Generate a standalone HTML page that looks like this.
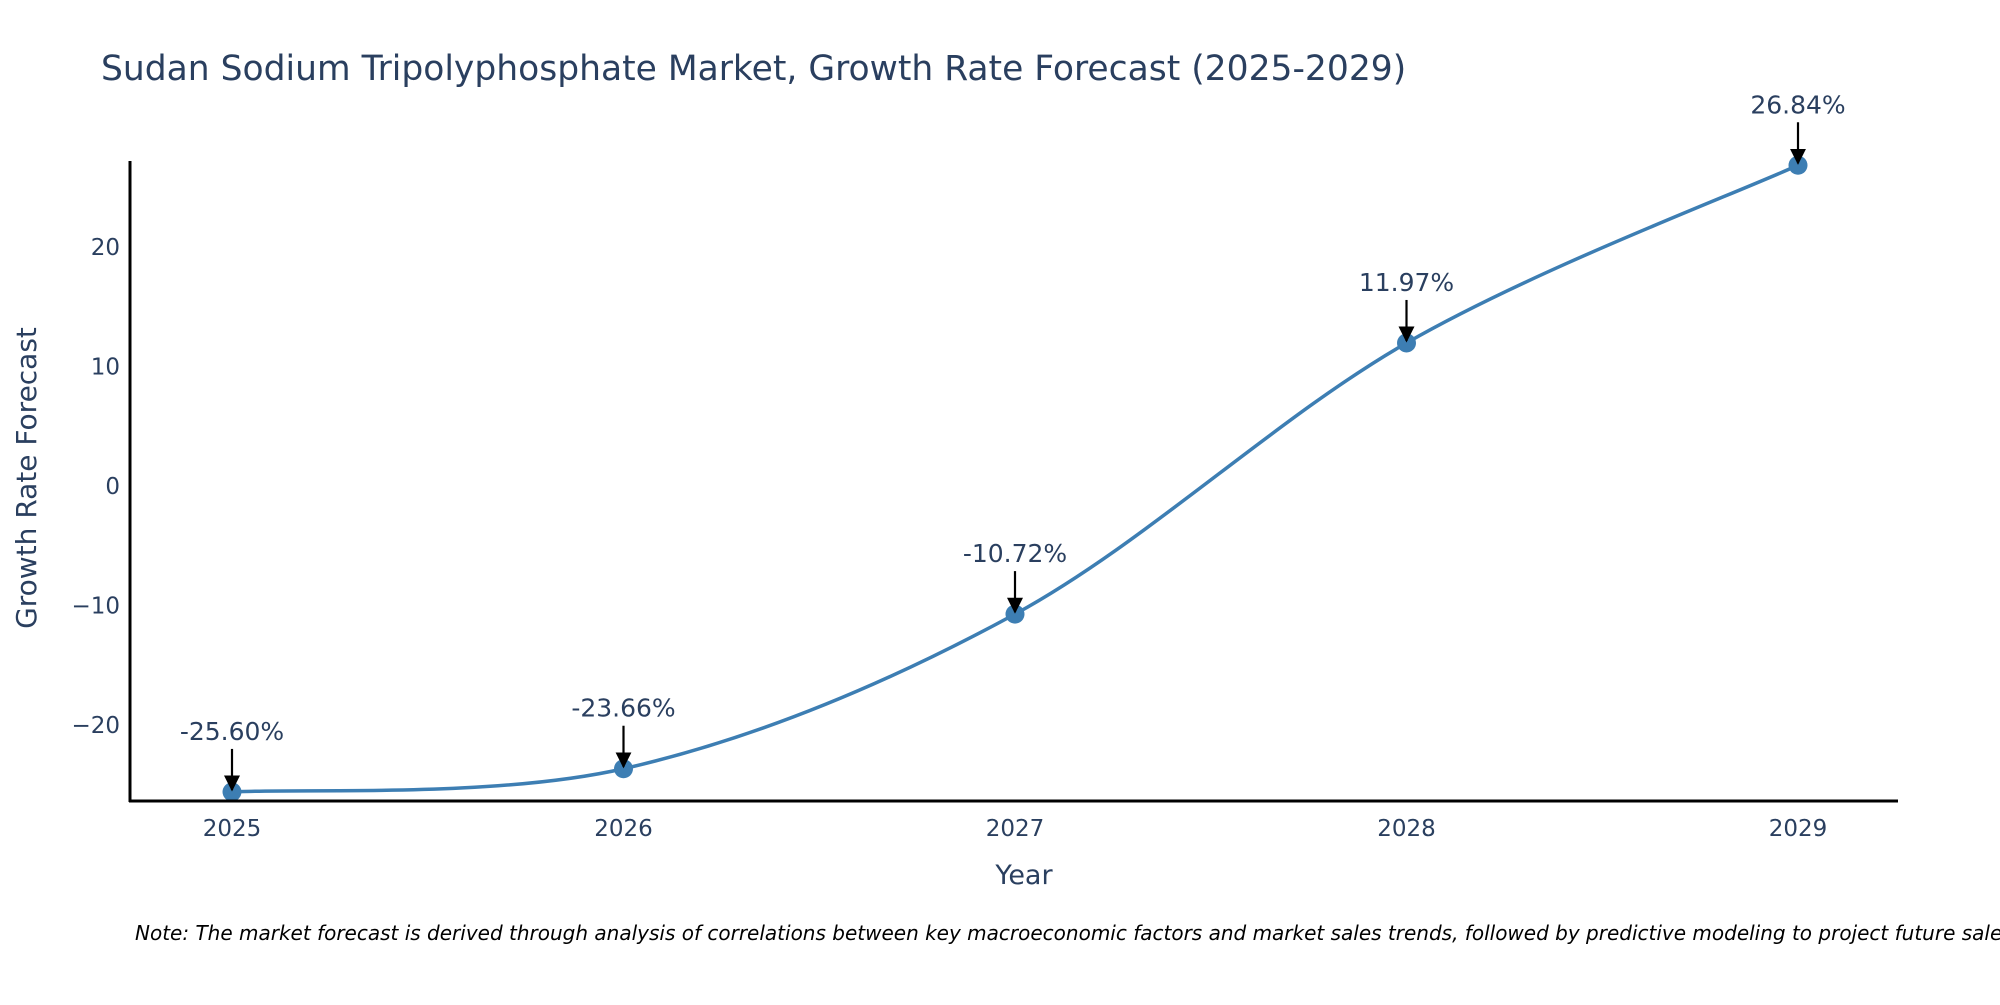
<!DOCTYPE html>
<html><head><meta charset="utf-8"><style>
body{margin:0;background:#fff;width:2000px;height:1000px;overflow:hidden}
svg text{font-family:"DejaVu Sans","Liberation Sans",sans-serif}
</style></head><body>
<svg id="chart" width="2000" height="1000" xmlns="http://www.w3.org/2000/svg">
<defs><marker id="ah" viewBox="0 0 10 10" refX="9" refY="5" markerWidth="16" markerHeight="16" markerUnits="userSpaceOnUse" orient="auto"><path d="M0,0L10,5L0,10z" fill="#000"/></marker></defs>
<text x="101" y="80" font-size="34.5" fill="#2a3f5f">Sudan Sodium Tripolyphosphate Market, Growth Rate Forecast (2025-2029)</text>
<g id="ticks"></g>
<path id="line" fill="none" stroke="#3d7eb3" stroke-width="3.5"/>
<g id="marks"></g>
<line x1="130" y1="161" x2="130" y2="802" stroke="#000" stroke-width="3"/>
<line x1="129" y1="801" x2="1898" y2="801" stroke="#000" stroke-width="3"/>
<text x="1024" y="884" font-size="27" fill="#2a3f5f" text-anchor="middle">Year</text>
<text transform="translate(36,478) rotate(-90)" font-size="28" fill="#2a3f5f" text-anchor="middle">Growth Rate Forecast</text>
<text x="135" y="940" font-size="20" font-style="italic" fill="#000">Note: The market forecast is derived through analysis of correlations between key macroeconomic factors and market sales trends, followed by predictive modeling to project future sales.</text>
</svg>
<script>
const years=[2025,2026,2027,2028,2029];
const growth=[-25.60,-23.66,-10.72,11.97,26.84];
const yTicks=[-20,-10,0,10,20];
const NS="http://www.w3.org/2000/svg";
function X(y){return 232+(y-2025)*391.5;}
function Y(v){return 486-v*11.95;}
const svg=document.getElementById('chart'),tg=document.getElementById('ticks'),mg=document.getElementById('marks');
function el(t,a,p){const e=document.createElementNS(NS,t);for(const k in a)e.setAttribute(k,a[k]);p.appendChild(e);return e;}
yTicks.forEach(v=>{const t=el('text',{x:120,y:Y(v)+8,'font-size':23,fill:'#2a3f5f','text-anchor':'end'},tg);


t.textContent=(v<0?'\u2212'+(-v):v);});
years.forEach(y=>{const t=el('text',{x:X(y),y:836,'font-size':23,fill:'#2a3f5f','text-anchor':'middle'},tg);


t.textContent=y;});
const P=years.map((y,i)=>[X(y),Y(growth[i])]);
let d='M'+P[0][0]+','+P[0][1];const s=0.5/3*2;
for(let i=0;i<P.length-1;i++){const p0=P[Math.max(0,i-1)],p1=P[i],p2=P[i+1],p3=P[Math.min(P.length-1,i+2)];
const c1=[p1[0]+(p2[0]-p0[0])*s/2,p1[1]+(p2[1]-p0[1])*s/2],c2=[p2[0]-(p3[0]-p1[0])*s/2,p2[1]-(p3[1]-p1[1])*s/2];
d+=` C${c1[0]},${c1[1]} ${c2[0]},${c2[1]} ${p2[0]},${p2[1]}`;}
document.getElementById('line').setAttribute('d',d);
P.forEach((p,i)=>{const c=el('circle',{cx:p[0],cy:p[1],r:9.5,fill:'#3d7eb3'},mg);


const a=el('line',{x1:p[0],y1:p[1]-43,x2:p[0],y2:p[1]-2,stroke:'#000','stroke-width':2.2,'marker-end':'url(#ah)'},mg);


const t=el('text',{x:p[0],y:p[1]-52,'font-size':25,fill:'#2a3f5f','text-anchor':'middle'},mg);


t.textContent=growth[i].toFixed(2)+'%';});
</script>
</body></html>
